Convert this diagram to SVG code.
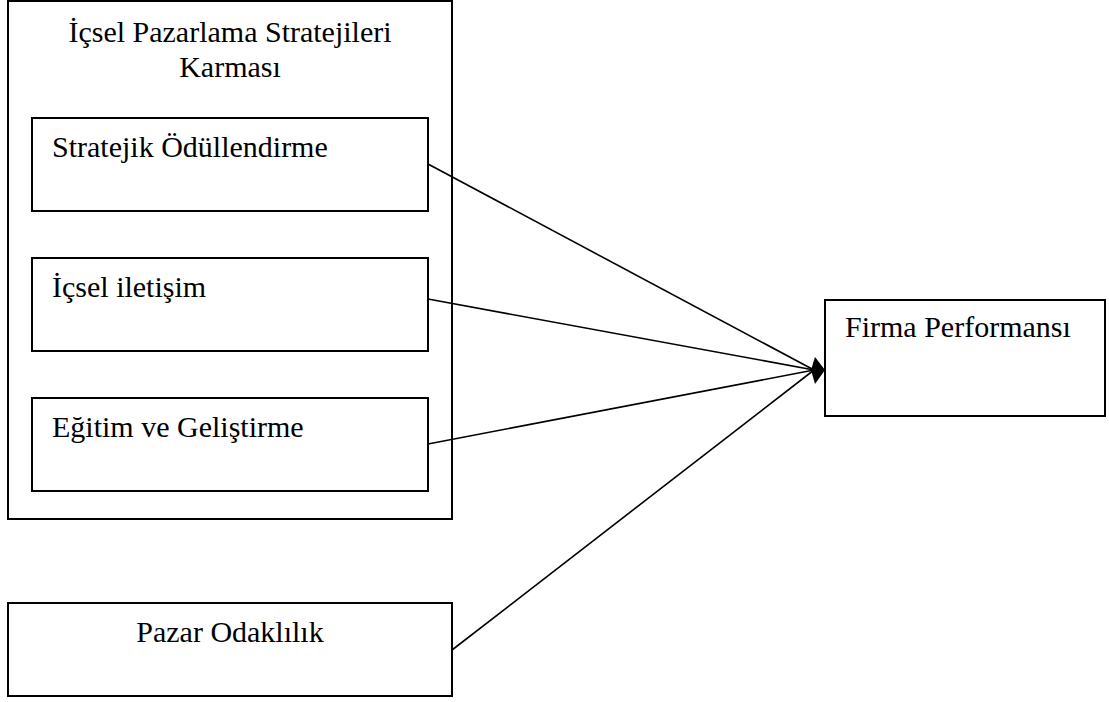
<svg xmlns="http://www.w3.org/2000/svg" width="1109" height="702" viewBox="0 0 1109 702">
<style>
.box{fill:none;stroke:#000;stroke-width:2}
.t{font-family:"Liberation Serif","Times New Roman",serif;font-size:30px;fill:#000}
.c{stroke:#000;stroke-width:1.6;fill:none}
</style>
<rect width="1109" height="702" fill="#fff"/>
<g id="outer">
<rect class="box" x="8" y="1" width="444" height="518"/>
<text class="t" x="230" y="42" text-anchor="middle">İçsel Pazarlama Stratejileri</text>
<text class="t" x="230" y="77" text-anchor="middle">Karması</text>
</g>
<g id="n1">
<rect class="box" x="32" y="118" width="396" height="93"/>
<text class="t" x="52" y="157">Stratejik Ödüllendirme</text>
</g>
<g id="n2">
<rect class="box" x="32" y="258" width="396" height="93"/>
<text class="t" x="52" y="297">İçsel iletişim</text>
</g>
<g id="n3">
<rect class="box" x="32" y="398" width="396" height="93"/>
<text class="t" x="52" y="437">Eğitim ve Geliştirme</text>
</g>
<g id="n4">
<rect class="box" x="8" y="603" width="444" height="93"/>
<text class="t" x="230" y="642" text-anchor="middle">Pazar Odaklılık</text>
</g>
<g id="n5">
<rect class="box" x="825" y="300" width="280" height="116"/>
<text class="t" x="845" y="337">Firma Performansı</text>
</g>
<g id="connectors">
<line class="c" x1="428" y1="164" x2="814" y2="370"/>
<line class="c" x1="428" y1="299" x2="814" y2="370"/>
<line class="c" x1="428" y1="444" x2="814" y2="370"/>
<line class="c" x1="452" y1="650" x2="814" y2="370"/>
<polygon points="825,370 815,357 811,370 815,384" fill="#000"/>
</g>
</svg>
